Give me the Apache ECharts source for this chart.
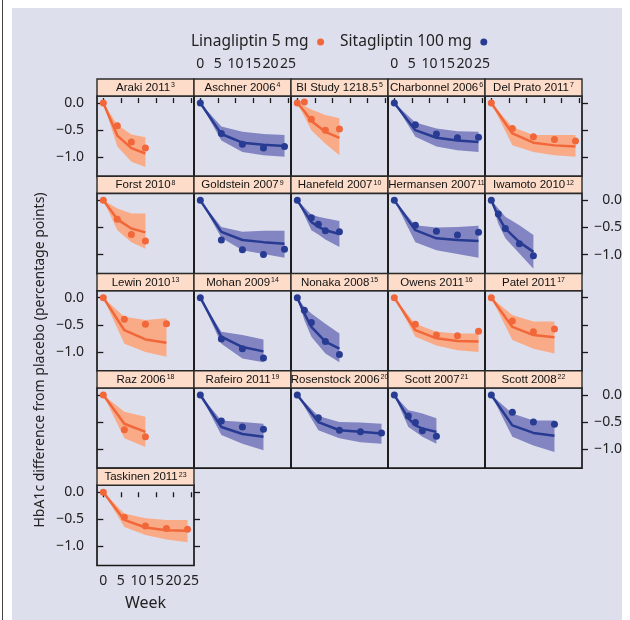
<!DOCTYPE html>
<html><head><meta charset="utf-8">
<script src="https://cdn.jsdelivr.net/npm/echarts@6/dist/echarts.min.js"></script>
<style>
html,body{margin:0;padding:0;background:#fff;}
#bg{position:absolute;left:12px;top:8px;width:610px;height:612px;background:#DDDFEC;}
#edge{position:absolute;left:2px;top:0;width:1px;height:620px;background:#444;}
#c{position:absolute;left:0;top:0;width:630px;height:620px;}
</style></head><body>
<div id="bg"></div><div id="edge"></div><div id="c"></div>
<script>
const studies = ['Araki 2011','Aschner 2006','BI Study 1218.5','Charbonnel 2006','Del Prato 2011',
  'Forst 2010','Goldstein 2007','Hanefeld 2007','Hermansen 2007','Iwamoto 2010',
  'Lewin 2010','Mohan 2009','Nonaka 2008','Owens 2011','Patel 2011',
  'Raz 2006','Rafeiro 2011','Rosenstock 2006','Scott 2007','Scott 2008','Taskinen 2011'];
const refs = [3,4,5,6,7,8,9,10,11,12,13,14,15,16,17,18,19,20,21,22,23];
const drugOf = ['L','S','L','S','L','L','S','S','S','S','L','S','S','L','L','L','S','S','S','S','L'];
const drugNames = {L:'Linagliptin 5 mg', S:'Sitagliptin 100 mg'};
const weeks = [
  [0,4,8,12],[0,6,12,18,24],[0,2,4,8,12],[0,6,12,18,24],[0,6,12,18,24],
  [0,4,8,12],[0,6,12,18,24],[0,4,6,8,12],[0,6,12,18,24],[0,2,4,8,12],
  [0,6,12,18],[0,6,12,18],[0,2,4,8,12],[0,6,12,18,24],[0,6,12,18],
  [0,6,12],[0,6,12,18],[0,6,12,18,24],[0,4,6,8,12],[0,6,12,18],
  [0,6,12,18,24]];
const observed = [
  [0,-0.42,-0.72,-0.83],[0,-0.56,-0.76,-0.83,-0.80],[0,0.02,-0.30,-0.50,-0.48],[0,-0.40,-0.57,-0.64,-0.63],[0,-0.47,-0.62,-0.67,-0.70],
  [0,-0.35,-0.63,-0.75],[0,-0.73,-0.91,-1.00,-0.90],[0,-0.32,-0.44,-0.56,-0.58],[0,-0.46,-0.57,-0.64,-0.59],[0,-0.25,-0.52,-0.80,-1.02],
  [0,-0.40,-0.49,-0.48],[0,-0.76,-0.94,-1.11],[0,-0.23,-0.46,-0.81,-1.05],[0,-0.49,-0.69,-0.70,-0.62],[0,-0.43,-0.63,-0.58],
  [0,-0.64,-0.77],[0,-0.48,-0.59,-0.63],[0,-0.42,-0.65,-0.68,-0.70],[0,-0.39,-0.51,-0.66,-0.76],[0,-0.32,-0.50,-0.54],
  [0,-0.46,-0.62,-0.67,-0.68]];
const predicted = [
  [0,-0.60,-0.83,-0.93],[0,-0.57,-0.73,-0.77,-0.79],[0,-0.15,-0.33,-0.53,-0.64],[0,-0.50,-0.64,-0.69,-0.72],[0,-0.56,-0.73,-0.78,-0.80],
  [0,-0.35,-0.52,-0.59],[0,-0.58,-0.73,-0.77,-0.80],[0,-0.40,-0.49,-0.55,-0.62],[0,-0.55,-0.70,-0.73,-0.75],[0,-0.30,-0.52,-0.77,-0.95],
  [0,-0.60,-0.77,-0.83],[0,-0.72,-0.91,-0.99],[0,-0.29,-0.54,-0.81,-0.94],[0,-0.60,-0.75,-0.80,-0.81],[0,-0.54,-0.69,-0.73],
  [0,-0.53,-0.68],[0,-0.59,-0.72,-0.77],[0,-0.50,-0.65,-0.68,-0.71],[0,-0.43,-0.56,-0.62,-0.68],[0,-0.56,-0.70,-0.75],
  [0,-0.51,-0.65,-0.70,-0.71]];
const upper = [
  [0,-0.40,-0.58,-0.63],[0,-0.43,-0.53,-0.57,-0.59],[0,-0.05,-0.12,-0.22,-0.28],[0,-0.36,-0.47,-0.52,-0.53],[0,-0.44,-0.59,-0.59,-0.59],
  [0,-0.15,-0.24,-0.24],[0,-0.49,-0.58,-0.56,-0.56],[0,-0.26,-0.30,-0.33,-0.38],[0,-0.46,-0.50,-0.49,-0.47],[0,-0.15,-0.30,-0.46,-0.64],
  [0,-0.35,-0.41,-0.38],[0,-0.63,-0.69,-0.77],[0,-0.17,-0.29,-0.48,-0.66],[0,-0.48,-0.63,-0.66,-0.66],[0,-0.32,-0.44,-0.44],
  [0,-0.31,-0.40],[0,-0.47,-0.50,-0.53],[0,-0.39,-0.50,-0.51,-0.53],[0,-0.28,-0.31,-0.34,-0.43],[0,-0.34,-0.47,-0.47],
  [0,-0.39,-0.48,-0.51,-0.51]];
const lower = [
  [0,-0.80,-1.08,-1.18],[0,-0.69,-0.90,-0.96,-0.99],[0,-0.25,-0.50,-0.75,-0.96],[0,-0.62,-0.80,-0.87,-0.90],[0,-0.78,-0.90,-0.96,-0.99],
  [0,-0.55,-0.77,-0.89],[0,-0.69,-0.92,-0.99,-1.06],[0,-0.55,-0.63,-0.72,-0.86],[0,-0.77,-0.92,-0.99,-1.06],[0,-0.43,-0.70,-0.98,-1.26],
  [0,-0.85,-1.00,-1.09],[0,-0.85,-1.12,-1.19],[0,-0.41,-0.72,-1.03,-1.19],[0,-0.72,-0.88,-0.97,-1.00],[0,-0.78,-0.94,-1.03],
  [0,-0.80,-0.96],[0,-0.74,-0.90,-1.02],[0,-0.65,-0.80,-0.87,-0.90],[0,-0.59,-0.68,-0.77,-0.90],[0,-0.77,-0.93,-1.05],
  [0,-0.64,-0.79,-0.87,-0.92]];
const xTicks = [0,5,10,15,20,25];
const yTicks = [0,-0.5,-1.0];

const COLORS = {L:{line:'#F2673A', band:'#F9AB88'}, S:{line:'#283B92', band:'#8285C1'}};
const FONT = 'Noto Sans';
const STRIP_FONT = 'Liberation Sans';
const INK = '#1a1a1a';
const NCOL=5, X0=97, CW=97, Y0=79, RH=97.3, SH=17;
const chart = echarts.init(document.getElementById('c'));
const grids=[], xAxes=[], yAxes=[], series=[], graphics=[];
const yFmt = v => v.toFixed(1).replace('-', '\u2212');
const tickStyle = {color:INK, width:1.3};

function bandRenderer(fill, n) {
  return function (params, api) {
    if (params.dataIndex !== 0) return null;
    const top = [], bottom = [];
    for (let k = 0; k < n; k++) {
      top.push(api.coord([api.value(0, k), api.value(2, k)]));
      bottom.push(api.coord([api.value(0, k), api.value(1, k)]));
    }
    return {type:'polygon', shape:{points: top.concat(bottom.reverse())}, style:{fill: fill}};
  };
}

studies.forEach((name,i)=>{
  const col=i%NCOL, row=Math.floor(i/NCOL);
  const left=X0+col*CW, stripTop=Y0+row*RH, top=stripTop+SH;
  const last = i===studies.length-1;
  const c = COLORS[drugOf[i]];
  grids.push({left:left, top:top, width:CW, height:RH-SH, show:true, borderColor:INK, borderWidth:1.7, backgroundColor:'transparent'});
  const xTop = row===0, xBottom = last;
  const xAx = {type:'value', gridIndex:i, min:-1.8, max:25.85, position: xBottom?'bottom':'top', offset: xTop?SH:0,
    axisLine:{show:false}, splitLine:{show:false},
    axisTick:{show: xTop||xBottom, length:5, customValues:xTicks, lineStyle:tickStyle},
    axisLabel:{show: (xTop && (col===1||col===3)) || xBottom, customValues:xTicks, margin: xBottom?9:8,
      fontSize:14, color:'#222', fontFamily:FONT}};
  if (xBottom) { xAx.name='Week'; xAx.nameLocation='middle'; xAx.nameGap=30; xAx.nameTextStyle={fontSize:16,color:'#222',fontFamily:FONT}; }
  xAxes.push(xAx);
  const yBase = {type:'value', gridIndex:i, min:-1.35, max:0.13, axisLine:{show:false}, splitLine:{show:false}};
  const leftTicks = col===0;
  yAxes.push(Object.assign({}, yBase, {position:'left',
    axisTick:{show:leftTicks, length:6, customValues:yTicks, lineStyle:tickStyle},
    axisLabel:{show: leftTicks && row%2===0, customValues:yTicks, formatter:yFmt, margin:13, fontSize:14, color:'#222', fontFamily:FONT}}));
  const yMain = yAxes.length-1;
  if (col===NCOL-1 || last) {
    yAxes.push(Object.assign({}, yBase, {position:'right',
      axisTick:{show:true, length:6, customValues:yTicks, lineStyle:tickStyle},
      axisLabel:{show: row%2===1, customValues:yTicks, margin:14,
        formatter: v => '{r|' + yFmt(v) + '}',
        rich:{r:{width:26, align:'right', fontSize:14, color:'#222', fontFamily:FONT}}}}));
  }
  const w = weeks[i];
  series.push({type:'custom', name:'ci'+i, xAxisIndex:i, yAxisIndex:yMain,
    data: w.map((x,k)=>[x, lower[i][k], upper[i][k]]), encode:{x:0, y:[1,2]},
    renderItem: bandRenderer(c.band, w.length), silent:true, z:1});
  series.push({type:'line', name:'pred'+i, xAxisIndex:i, yAxisIndex:yMain,
    data: w.map((x,k)=>[x, predicted[i][k]]), symbol:'none', lineStyle:{width:2.5, color:c.line}, silent:true, z:3});
  series.push({type:'scatter', name:drugNames[drugOf[i]], xAxisIndex:i, yAxisIndex:yMain,
    data: w.map((x,k)=>[x, observed[i][k]]), symbol:'circle', symbolSize:7, itemStyle:{color:c.line, opacity:1}, silent:true, z:4});
  graphics.push({type:'rect', z:50, shape:{x:left, y:stripTop, width:CW, height:SH},
    style:{fill:'#FDDCC9', stroke:'#2a2a2a', lineWidth:1.4}});
  graphics.push({type:'text', z:51, x:left+CW/2, y:stripTop+SH/2+0.5,
    style:{text:'{a|'+name+'}{s|'+refs[i]+'}', textAlign:'center', textVerticalAlign:'middle',
      rich:{a:{fontSize:11.5, fontFamily:STRIP_FONT, fill:'#111'}, s:{fontSize:7, fontFamily:STRIP_FONT, fill:'#111', verticalAlign:'top', padding:[0,0,0,1]}}}});
});

graphics.push({type:'text', z:51, x:40, y:360, rotation:Math.PI/2,
  style:{text:'HbA1c difference from placebo (percentage points)', fontSize:14, fontFamily:FONT, fill:'#222',
    textAlign:'center', textVerticalAlign:'middle'}});

chart.setOption({
  animation:false,
  backgroundColor:'transparent',
  legend:{data:[drugNames.L, drugNames.S], left:186, top:29, align:'right', icon:'circle', itemWidth:14, itemHeight:7,
    itemGap:16, selectedMode:false, textStyle:{fontSize:15.5, color:'#222', fontFamily:FONT}},
  grid:grids, xAxis:xAxes, yAxis:yAxes, series:series, graphic:graphics
});
</script></body></html>
